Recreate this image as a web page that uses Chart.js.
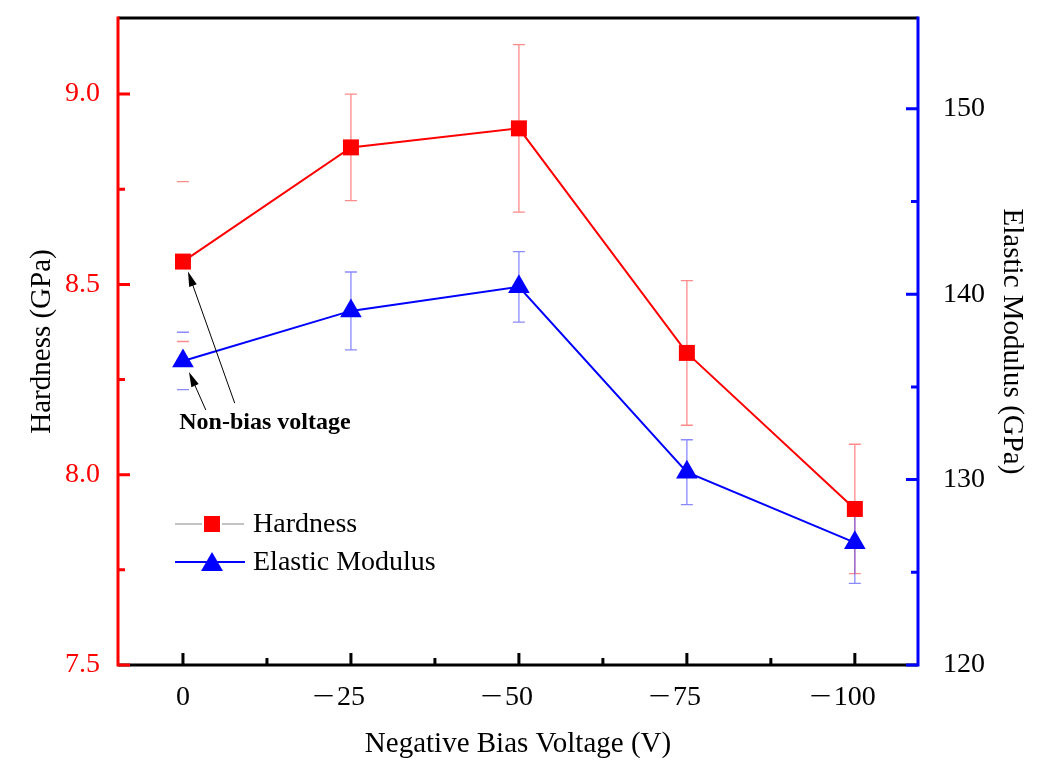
<!DOCTYPE html>
<html>
<head>
<meta charset="utf-8">
<script src="https://cdn.jsdelivr.net/npm/chart.js@4.4.1/dist/chart.umd.min.js"></script>
<style>
  html, body { margin: 0; padding: 0; background: #fff; }
  #wrap { width: 1059px; height: 763px; position: relative; }
</style>
</head>
<body>
<div id="wrap"><canvas id="grafico"></canvas></div>
<script>
// ── Dados ──
const biasVoltage   = [0, -25, -50, -75, -100];
const hardness      = [8.56, 8.86, 8.91, 8.32, 7.91];
const hardnessErr   = [0.21, 0.14, 0.22, 0.19, 0.17];
const modulus       = [136.4, 139.1, 140.4, 130.4, 126.6];
const modulusErr    = [1.55, 2.1, 1.9, 1.75, 2.2];

const xTicks        = [0, -25, -50, -75, -100];
const hardnessTicks = [7.5, 8.0, 8.5, 9.0];
const modulusTicks  = [120, 130, 140, 150];

const FONTE = "'Liberation Serif', 'Times New Roman', serif";
const VERMELHO = "#ff0000";
const AZUL = "#0000ff";

// ── Barras de erro (desenhadas atrás dos marcadores) ──
const errorBars = {
  id: "errorBars",
  beforeDatasetsDraw(chart) {
    const ctx = chart.ctx;
    const xs = chart.scales.x;
    const series = [
      { vals: hardness, err: hardnessErr, scale: chart.scales.y,  cor: "rgba(255,60,60,0.6)" },
      { vals: modulus,  err: modulusErr,  scale: chart.scales.y1, cor: "rgba(60,60,255,0.6)" },
    ];
    ctx.save();
    ctx.lineWidth = 1.3;
    series.forEach(s => {
      ctx.strokeStyle = s.cor;
      s.vals.forEach((v, i) => {
        const x  = xs.getPixelForValue(biasVoltage[i]);
        const hi = s.scale.getPixelForValue(v + s.err[i]);
        const lo = s.scale.getPixelForValue(v - s.err[i]);
        ctx.beginPath();
        if (i > 0) { ctx.moveTo(x, hi); ctx.lineTo(x, lo); }
        ctx.moveTo(x - 6, hi); ctx.lineTo(x + 6, hi);
        ctx.moveTo(x - 6, lo); ctx.lineTo(x + 6, lo);
        ctx.stroke();
      });
    });
    ctx.restore();
  }
};

// ── Eixos com ticks para dentro + rótulos do eixo x ──
const eixos = {
  id: "eixos",
  afterDraw(chart) {
    const ctx = chart.ctx;
    const { left, right, top, bottom } = chart.chartArea;
    const xs = chart.scales.x, ys = chart.scales.y, y1 = chart.scales.y1;
    ctx.save();
    ctx.lineWidth = 3;
    ctx.lineCap = "butt";

    // linhas pretas (topo e base)
    ctx.strokeStyle = "#000";
    ctx.beginPath();
    ctx.moveTo(left, top); ctx.lineTo(right, top);
    ctx.moveTo(left, bottom); ctx.lineTo(right, bottom);
    ctx.stroke();

    // ticks do eixo x
    ctx.beginPath();
    xTicks.forEach((v, i) => {
      const px = xs.getPixelForValue(v);
      ctx.moveTo(px, bottom); ctx.lineTo(px, bottom - 12);
      if (i < xTicks.length - 1) {
        const pm = xs.getPixelForValue((v + xTicks[i + 1]) / 2);
        ctx.moveTo(pm, bottom); ctx.lineTo(pm, bottom - 7);
      }
    });
    ctx.stroke();

    // rótulos do eixo x: dígitos centrados no tick, sinal de menos à esquerda
    ctx.fillStyle = "#000";
    ctx.font = "28px " + FONTE;
    ctx.textBaseline = "alphabetic";
    xTicks.forEach(v => {
      const px = xs.getPixelForValue(v);
      const num = String(Math.abs(v));
      const w = ctx.measureText(num).width;
      ctx.textAlign = "center";
      ctx.fillText(num, px, bottom + 40);
      if (v < 0) {
        ctx.save();
        ctx.translate(px - w / 2 - 2, bottom + 40);
        ctx.scale(1.4, 1);
        ctx.textAlign = "right";
        ctx.fillText("\u2212", 0, 0);
        ctx.restore();
      }
    });

    // eixo esquerdo (vermelho)
    ctx.strokeStyle = VERMELHO;
    ctx.beginPath();
    ctx.moveTo(left, top - 1.5); ctx.lineTo(left, bottom + 1.5);
    hardnessTicks.forEach((v, i) => {
      const py = ys.getPixelForValue(v);
      ctx.moveTo(left, py); ctx.lineTo(left + 12, py);
      if (i < hardnessTicks.length - 1) {
        const pm = ys.getPixelForValue((v + hardnessTicks[i + 1]) / 2);
        ctx.moveTo(left, pm); ctx.lineTo(left + 7, pm);
      }
    });
    ctx.stroke();

    // eixo direito (azul)
    ctx.strokeStyle = AZUL;
    ctx.beginPath();
    ctx.moveTo(right, top - 1.5); ctx.lineTo(right, bottom + 1.5);
    modulusTicks.forEach((v, i) => {
      const py = y1.getPixelForValue(v);
      ctx.moveTo(right, py); ctx.lineTo(right - 12, py);
      if (i < modulusTicks.length - 1) {
        const pm = y1.getPixelForValue((v + modulusTicks[i + 1]) / 2);
        ctx.moveTo(right, pm); ctx.lineTo(right - 7, pm);
      }
    });
    ctx.stroke();
    ctx.restore();
  }
};

// ── Seta + texto "Non-bias voltage" e legenda ──
function seta(ctx, x0, y0, x1, y1) {
  const ang = Math.atan2(y1 - y0, x1 - x0);
  ctx.beginPath();
  ctx.moveTo(x0, y0);
  ctx.lineTo(x1 - 10 * Math.cos(ang), y1 - 10 * Math.sin(ang));
  ctx.stroke();
  ctx.beginPath();
  ctx.moveTo(x1, y1);
  ctx.lineTo(x1 - 15 * Math.cos(ang) + 4 * Math.sin(ang), y1 - 15 * Math.sin(ang) - 4 * Math.cos(ang));
  ctx.lineTo(x1 - 15 * Math.cos(ang) - 4 * Math.sin(ang), y1 - 15 * Math.sin(ang) + 4 * Math.cos(ang));
  ctx.closePath();
  ctx.fill();
}

const anotacoes = {
  id: "anotacoes",
  afterDatasetsDraw(chart) {
    const ctx = chart.ctx;
    const xs = chart.scales.x, ys = chart.scales.y, y1 = chart.scales.y1;
    const px0 = xs.getPixelForValue(biasVoltage[0]);

    ctx.save();
    ctx.strokeStyle = "#000";
    ctx.fillStyle = "#000";
    ctx.lineWidth = 1;
    seta(ctx, xs.getPixelForValue(-7.7), ys.getPixelForValue(8.188),
              px0 + 5, ys.getPixelForValue(hardness[0]) + 10);
    seta(ctx, xs.getPixelForValue(-3.4), ys.getPixelForValue(8.17),
              px0 + 6, y1.getPixelForValue(modulus[0]) + 11);

    ctx.font = "bold 24px " + FONTE;
    ctx.textAlign = "center";
    ctx.textBaseline = "middle";
    ctx.fillText("Non-bias voltage", xs.getPixelForValue(-12.2), ys.getPixelForValue(8.136));

    // legenda
    const L = chart.chartArea.left;
    ctx.font = "28px " + FONTE;
    ctx.textAlign = "left";
    // Hardness
    ctx.strokeStyle = "#888";
    ctx.lineWidth = 1;
    ctx.beginPath();
    ctx.moveTo(L + 57, 524); ctx.lineTo(L + 84, 524);
    ctx.moveTo(L + 104, 524); ctx.lineTo(L + 126, 524);
    ctx.stroke();
    ctx.fillStyle = VERMELHO;
    ctx.fillRect(L + 94 - 8, 524 - 8, 16, 16);
    ctx.fillStyle = "#000";
    ctx.fillText("Hardness", L + 135, 525);
    // Elastic Modulus
    ctx.strokeStyle = AZUL;
    ctx.lineWidth = 2;
    ctx.beginPath();
    ctx.moveTo(L + 57, 562); ctx.lineTo(L + 127, 562);
    ctx.stroke();
    ctx.fillStyle = AZUL;
    ctx.beginPath();
    ctx.moveTo(L + 94, 552); ctx.lineTo(L + 105, 571); ctx.lineTo(L + 83, 571);
    ctx.closePath();
    ctx.fill();
    ctx.fillStyle = "#000";
    ctx.fillText("Elastic Modulus", L + 135, 563);
    ctx.restore();
  }
};

// zera o espaço extra que o Chart.js reserva para meia altura dos rótulos
function semPadding(s) {
  s.paddingTop = 0; s.paddingBottom = 0;
  s.paddingLeft = 0; s.paddingRight = 0;
}

const ctx = document.getElementById("grafico").getContext("2d");

new Chart(ctx, {
  type: "line",
  data: {
    datasets: [
      {
        label: "Hardness",
        data: biasVoltage.map((x, i) => ({ x: x, y: hardness[i] })),
        yAxisID: "y",
        borderColor: VERMELHO,
        backgroundColor: VERMELHO,
        borderWidth: 2,
        pointStyle: "rect",
        pointRadius: 11.3,
        pointBorderWidth: 0,
        tension: 0,
      },
      {
        label: "Elastic Modulus",
        data: biasVoltage.map((x, i) => ({ x: x, y: modulus[i] })),
        yAxisID: "y1",
        borderColor: AZUL,
        backgroundColor: AZUL,
        borderWidth: 2,
        pointStyle: "triangle",
        pointRadius: 12.5,
        pointBorderWidth: 0,
        tension: 0,
      }
    ]
  },
  options: {
    responsive: true,
    maintainAspectRatio: false,
    animation: false,
    layout: { padding: { top: 18, left: 0, right: 0, bottom: 0 } },
    plugins: {
      legend: { display: false },
      tooltip: { enabled: false },
    },
    scales: {
      x: {
        type: "linear",
        reverse: true,
        min: -109.4,
        max: 9.67,
        afterFit: s => { s.height = 98; semPadding(s); },
        afterBuildTicks: s => { s.ticks = xTicks.map(v => ({ value: v })); },
        grid: { display: false, drawTicks: false },
        border: { display: false },
        ticks: { display: false },
        title: {
          display: true,
          text: "Negative Bias Voltage (V)",
          font: { family: FONTE, size: 29 },
          color: "#000",
          padding: { top: 0, bottom: 1 },
        }
      },
      y: {
        position: "left",
        min: 7.5,
        max: 9.2,
        afterFit: s => { s.width = 118; semPadding(s); },
        afterBuildTicks: s => { s.ticks = hardnessTicks.map(v => ({ value: v })); },
        grid: { display: false, drawTicks: false },
        border: { display: false },
        ticks: {
          font: { family: FONTE, size: 28 },
          color: VERMELHO,
          padding: 18,
          callback: v => v.toFixed(1),
        },
        title: {
          display: true,
          text: "Hardness (GPa)",
          font: { family: FONTE, size: 29 },
          color: "#000",
          padding: { top: 25, bottom: 0 },
        }
      },
      y1: {
        position: "right",
        min: 120,
        max: 154.9,
        afterFit: s => { s.width = 141; semPadding(s); },
        afterBuildTicks: s => { s.ticks = modulusTicks.map(v => ({ value: v })); },
        grid: { display: false, drawTicks: false },
        border: { display: false },
        ticks: {
          font: { family: FONTE, size: 28 },
          color: "#000",
          padding: 25,
          callback: v => String(v),
        },
        title: {
          display: true,
          text: "Elastic Modulus (GPa)",
          font: { family: FONTE, size: 29 },
          color: "#000",
          padding: { top: 30, bottom: 0 },
        }
      }
    }
  },
  plugins: [errorBars, eixos, anotacoes]
});
</script>
</body>
</html>
